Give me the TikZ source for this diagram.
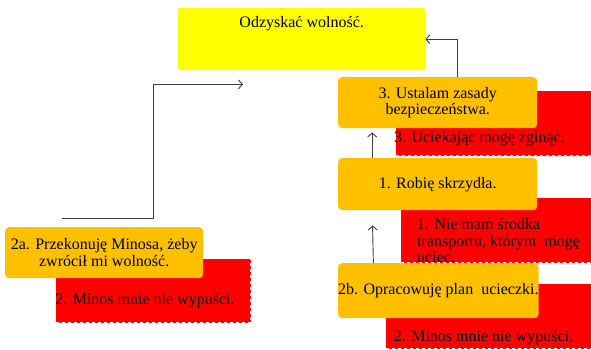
\documentclass[tikz,border=0pt]{standalone}
\usepackage{fontspec}
\setmainfont{Liberation Serif}
\usetikzlibrary{arrows.meta,positioning,calc}
\definecolor{goalyellow}{HTML}{FFFF00}
\definecolor{stepgold}{HTML}{FFC000}
\definecolor{riskred}{HTML}{FF0000}
\tikzset{
	stepbox/.style={fill=stepgold, rounded corners=4pt, anchor=north west,
		minimum width=199pt, minimum height=51pt, align=center, inner sep=0pt},
	riskbox/.style={fill=riskred, draw=white, dash pattern=on 3pt off 3pt,
		line width=1pt, anchor=north west, minimum height=65pt, inner sep=0pt},
	risktext/.style={inner sep=0pt},
	link/.style={draw=black!75, line width=0.9pt, -{Straight Barb[length=4pt,width=9pt]}}
}

\begin{document}
\begin{tikzpicture}[x=1pt, y=-1pt, font=\fontsize{16}{16.8}\selectfont]
	\useasboundingbox (0,0) rectangle (591,349);
	% goal
	\node (goal) [fill=goalyellow, rounded corners=2pt, anchor=north west,
	minimum width=247pt, inner sep=0pt,
	text height=19pt, text depth=43pt] at (178,8) {Odzyskać wolność.};
	
	% risks (behind the steps)
	\node (r3) [riskbox, minimum width=196pt] at (395,90) {};
	\node (r1) [riskbox, minimum width=191pt] at (400,197) {};
	\node (r2b) [riskbox, minimum width=206pt] at (385,283) {};
	\node (r2a) [riskbox, minimum width=195pt, minimum height=64pt] at (55,258) {};
	
	\node (r3text) [risktext] at ($ (r3.south) + (-14,-17) $) {3. Uciekając mogę zginąć.};
	\node (r1text) [risktext, anchor=north west, align=left] at ($ (r1.north west) + (17,21) $)
	{1. Nie mam środka\\transportu, którym\ \ mogę\\uciec.};
	\node (r2btext) [risktext] at ($ (r2b.south) + (-5,-11) $) {2. Minos mnie nie wypuści.};
	\node (r2atext) [risktext] at ($ (r2a.south) + (-8,-22) $) {2. Minos mnie nie wypuści.};
	
	% steps
	\node (b3) [stepbox] at (338,77) {3. Ustalam zasady\\bezpieczeństwa.};
	\node (b1) [stepbox, minimum height=52pt] at (338,158) {1. Robię skrzydła.};
	\node (b2b) [stepbox, minimum width=198pt, minimum height=55pt] at (338,263) {2b. Opracowuję plan\ \ ucieczki.};
	\node (b2a) [stepbox, minimum width=198pt] at (5,227) {2a. Przekonuję Minosa, żeby\\zwrócił mi wolność.};
	
	% connectors
	\coordinate (from2a) at ($ (b2a.north west) + (57,-9) $);
	\coordinate (to2a) at ($ (goal.south west) + (65,14) $);
	\draw[link] (from2a) -- ++(91,0) |- (to2a);
	\draw[link] ($ (b3.north) + (19.5,0) $) |- (goal.east);
	\draw[link, shorten >=4pt] ($ (b1.north) + (-65.5,0) $) -- ($ (b3.south) + (-65.5,0) $);
	\draw[link, shorten >=15pt] ($ (b2b.north) + (-65,0) $) -- ($ (b1.south) + (-65.5,0) $);
\end{tikzpicture}
\end{document}
